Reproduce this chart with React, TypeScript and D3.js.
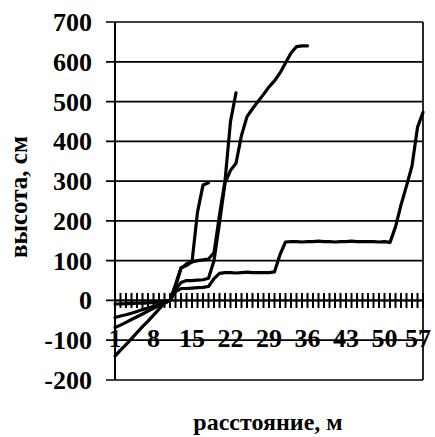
import React from "react";
import * as d3 from "d3";

// Profile heights (cm) along the transect, one value per metre mark
const categories = d3.range(1, 58);
const tickLabels = [1, 8, 15, 22, 29, 36, 43, 50, 57];
const yTicks = [-200, -100, 0, 100, 200, 300, 400, 500, 600, 700];

const seriesA = [-9, -9, -8, -8, -7, -7, -6, -5, -4, -2, 0, 28, 45, 50, 50, 51, 52, 56, 100, 195, 295, 327, 345, 415, 462, 482, 500, 518, 537, 552, 572, 597, 622, 638, 640, 640];
const seriesB = [-43, -39, -36, -32, -28, -23, -19, -15, -10, -5, 0, 35, 80, 92, 97, 100, 102, 104, 120, 215, 300, 450, 522];
const seriesC = [-68, -62, -55, -48, -41, -34, -27, -20, -13, -6, 0, 40, 82, 88, 97, 222, 290, 296];
const seriesD = [
  -140, -125, -111, -96, -81, -66, -52, -37, -22, -7, 0,
  22, 30, 30, 31, 32, 33, 35, 55, 68,
  70, 70, 69, 70, 71, 70, 70, 70, 70, 72,
  115, 147,
  148, 148, 147, 148, 148, 149, 148, 148, 147, 148, 148, 149, 148, 148, 148, 148, 147, 148,
  146, 185, 240, 288, 338, 435, 473,
];

const allSeries = [seriesA, seriesB, seriesC, seriesD];

const W = 435;
const H = 437;
const left = 115;
const right = 423;
const top = 22;
const bottom = 380;
const font = "'Liberation Serif', 'Times New Roman', serif";

export default function App() {
  const x = d3.scaleLinear().domain([1, categories.length]).range([left, right]);
  const y = d3.scaleLinear().domain([-200, 700]).range([bottom, top]);
  const line = d3
    .line<number>()
    .x((_, i) => x(categories[i]))
    .y((v) => y(v));

  return (
    <svg
      width={W}
      height={H}
      style={{ position: "absolute", left: 0, top: 0, background: "#fff" }}
    >
      {/* horizontal gridlines with outward ticks */}
      {yTicks.map((t) => (
        <line key={"g" + t} x1={left - 9} x2={right} y1={y(t)} y2={y(t)} stroke="#000" strokeWidth={1.7} />
      ))}
      {/* plot border */}
      <line x1={left} x2={left} y1={top} y2={bottom} stroke="#000" strokeWidth={2} />
      <line x1={right} x2={right} y1={top} y2={bottom} stroke="#000" strokeWidth={1.7} />

      {/* category axis at zero with crossing ticks */}
      <line x1={left} x2={right} y1={y(0)} y2={y(0)} stroke="#000" strokeWidth={2} />
      {categories.map((c) => (
        <line key={"t" + c} x1={x(c)} x2={x(c)} y1={y(0) - 7.5} y2={y(0) + 7.5} stroke="#000" strokeWidth={2} />
      ))}

      {/* y tick labels */}
      {yTicks.map((t) => (
        <text
          key={"l" + t}
          x={92}
          y={y(t) + 9}
          textAnchor="end"
          fontFamily={font}
          fontWeight="bold"
          fontSize={26}
          fill="#000"
        >
          {t}
        </text>
      ))}

      {/* x tick labels */}
      {tickLabels.map((c) => (
        <text
          key={"x" + c}
          x={Math.min(x(c), W - 17)}
          y={347}
          textAnchor="middle"
          fontFamily={font}
          fontWeight="bold"
          fontSize={26}
          fill="#000"
        >
          {c}
        </text>
      ))}

      {/* series */}
      {allSeries.map((s, i) => (
        <path
          key={"s" + i}
          d={line(s) ?? ""}
          fill="none"
          stroke="#000"
          strokeWidth={3.2}
          strokeLinejoin="round"
          strokeLinecap="round"
        />
      ))}

      {/* axis titles */}
      <text
        transform={`translate(27, 197) rotate(-90)`}
        textAnchor="middle"
        fontFamily={font}
        fontWeight="bold"
        fontSize={25}
        fill="#000"
      >
        высота, см
      </text>
      <text
        x={268}
        y={430}
        textAnchor="middle"
        fontFamily={font}
        fontWeight="bold"
        fontSize={24}
        fill="#000"
      >
        расстояние, м
      </text>
    </svg>
  );
}
